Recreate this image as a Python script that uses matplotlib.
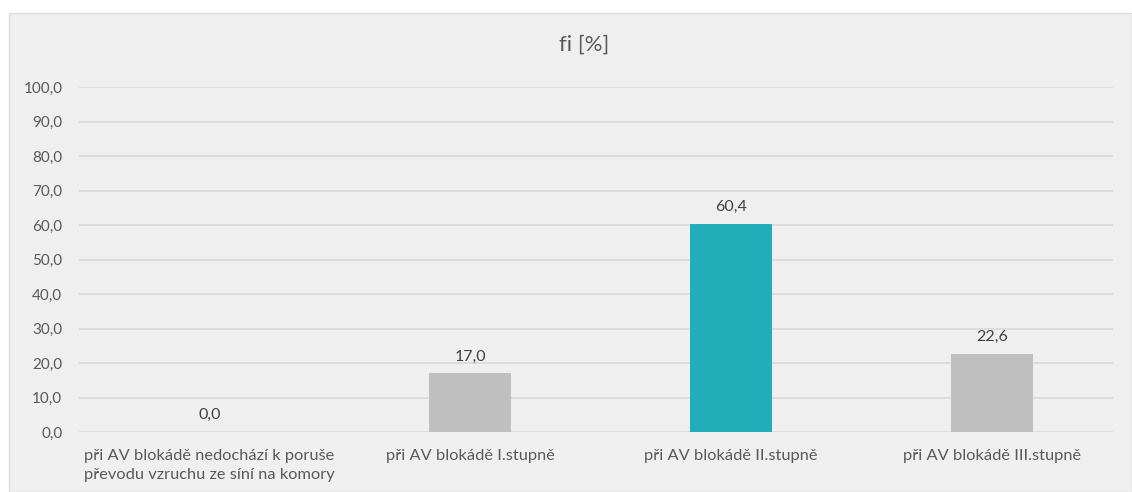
import matplotlib.pyplot as plt
from matplotlib.patches import Rectangle

categories = [
    "při AV blokádě nedochází k poruše\npřevodu vzruchu ze síní na komory",
    "při AV blokádě I.stupně",
    "při AV blokádě II.stupně",
    "při AV blokádě III.stupně",
]
values = [0.0, 17.0, 60.4, 22.6]
bar_colors = ["#BFBFBF", "#BFBFBF", "#20AEB8", "#BFBFBF"]
yticks = [0, 10, 20, 30, 40, 50, 60, 70, 80, 90, 100]

TEXT = "#595959"
BG = "#EFEFEF"

plt.rcParams["font.family"] = ["Lato", "DejaVu Sans"]

W, H = 1132, 492
fig = plt.figure(figsize=(W / 100, H / 100), dpi=100)
fig.patch.set_facecolor("white")

# chart area background (grey panel with white margin top/left)
fig.patches.append(Rectangle((9 / W, 0), 1 - 9 / W, 1 - 13 / H,
                             transform=fig.transFigure, facecolor=BG,
                             edgecolor="#DCDCDC", linewidth=1, zorder=-5))

ax = fig.add_axes([79 / W, (H - 432) / H, (1113 - 79) / W, (432 - 87) / H])
ax.set_zorder(2)
ax.patch.set_alpha(0)

x = list(range(len(categories)))
ax.bar(x, values, width=0.314, color=bar_colors, zorder=3)

for xi, v in zip(x, values):
    ax.annotate(f"{v:.1f}".replace(".", ","), (xi, v), xytext=(0, 7),
                textcoords="offset points", ha="center", va="bottom",
                fontsize=11.5, color="#404040")

ax.set_xlim(-0.5, 3.464)
ax.set_ylim(0, 100)
ax.set_yticks(yticks)
ax.set_yticklabels([f"{t:.1f}".replace(".", ",") for t in yticks],
                   fontsize=11, color=TEXT)
ax.set_xticks(x)
ax.set_xticklabels(categories, fontsize=11.8, color=TEXT, va="top",
                   linespacing=1.45)
ax.tick_params(axis="both", length=0)
ax.tick_params(axis="y", pad=12)
ax.tick_params(axis="x", pad=12)

ax.grid(axis="y", color="#D9D9D9", linewidth=1.2, zorder=0)
for s in ax.spines.values():
    s.set_visible(False)

fig.text(584 / W, 1 - 45 / H, "fi [%]", ha="center", va="center",
         fontsize=16, color=TEXT)

fig.savefig("out.png", dpi=100, facecolor=fig.get_facecolor())
